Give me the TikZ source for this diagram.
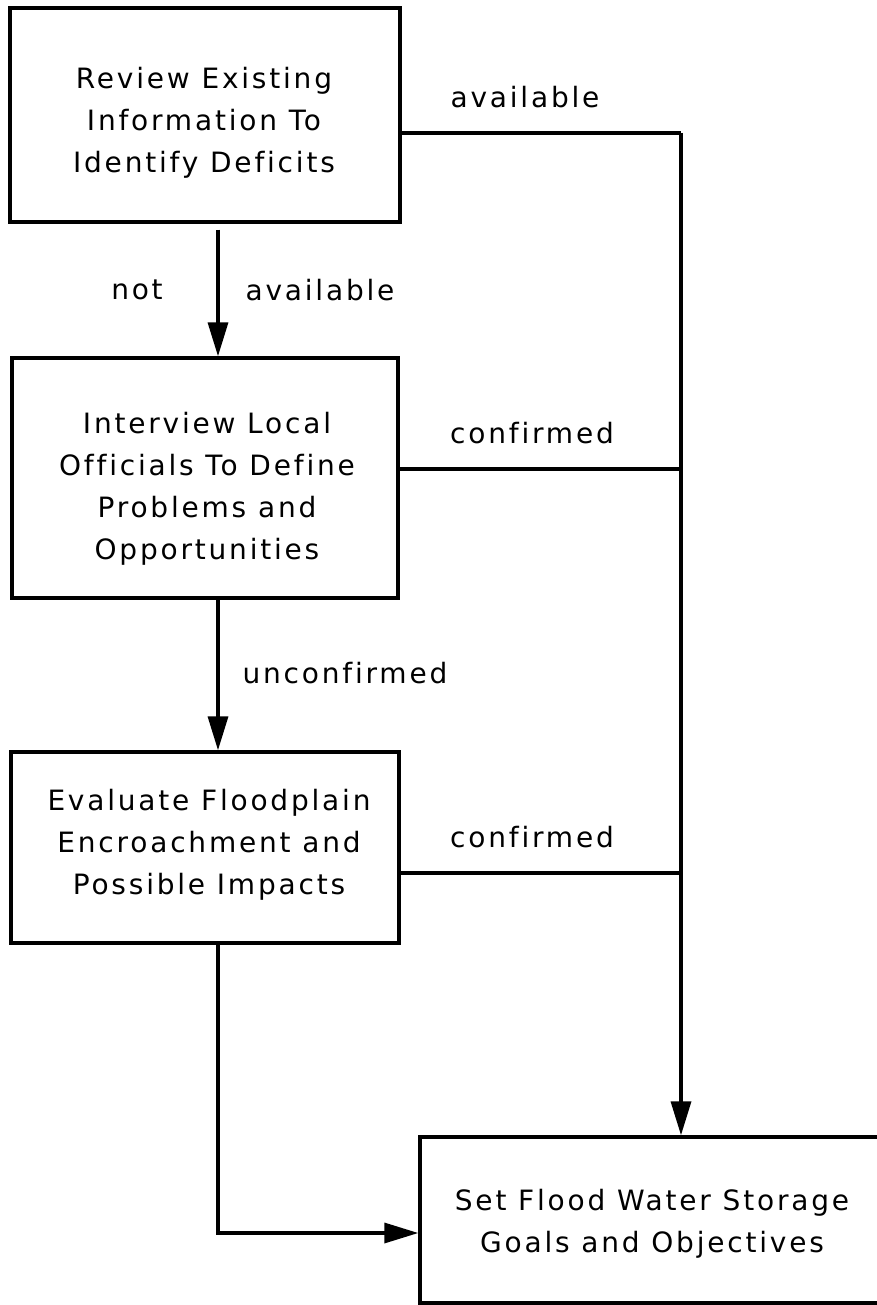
\documentclass[tikz,border=0pt]{standalone}
\usepackage{fontspec}
\setmainfont{DejaVu Sans}[LetterSpace=10,Ligatures={NoCommon}]
\usetikzlibrary{arrows.meta}
\begin{document}
\begin{tikzpicture}[x=1pt,y=-1pt,
  every node/.style={font=\fontsize{28}{42}\selectfont},
  box/.style={draw, line width=3.4pt, rectangle, inner sep=0pt},
  txt/.style={align=center, inner sep=0pt},
  lbl/.style={inner sep=0pt},
  link/.style={line width=3.4pt},
  arr/.style={line width=3.4pt, -{Triangle[length=34pt,width=20pt]}}]
\useasboundingbox (0,0) rectangle (876,1305);

% process boxes
\node[box, minimum width=390pt, minimum height=214pt] (b1) at (205,115) {};
\node[txt] (t1) at (204,123) {Review Existing\\Information To\\Identify Deficits};

\node[box, minimum width=386pt, minimum height=240pt] (b2) at (205,478) {};
\node[txt] (t2) at (207,489) {Interview Local\\Officials To Define\\Problems and\\Opportunities};

\node[box, minimum width=388pt, minimum height=191pt] (b3) at (205,847.5) {};
\node[txt] (t3) at (209,845) {Evaluate Floodplain\\Encroachment and\\Possible Impacts};

\node[box, minimum width=464pt, minimum height=166pt] (b4) at (652,1220) {};
\node[txt] (t4) at (652,1223.5) {Set Flood Water Storage\\Goals and Objectives};

% collecting line on the right
\coordinate (j1) at (681,133);

% connectors
\draw[arr] ([xshift=13pt,yshift=-6pt]b1.south) -- ([xshift=13pt]b2.north);
\draw[arr] ([xshift=13pt]b2.south) -- ([xshift=13pt]b3.north);
\draw[link] ([yshift=-18pt]b1.east) -- (j1);
\draw[link] ([yshift=9pt]b2.east) -- ([yshift=9pt]b2.east -| j1);
\draw[link] ([yshift=-25.5pt]b3.east) -- ([yshift=-25.5pt]b3.east -| j1);
\draw[arr] (j1) -- (j1 |- b4.north);
\draw[arr] ([xshift=13pt]b3.south) |- ([yshift=-13pt]b4.west);

% connector labels
\node[lbl] (l1) at (525,97) {available};
\node[lbl] (l2) at (137,290) {not};
\node[lbl] (l3) at (320,290) {available};
\node[lbl] (l4) at (532,433) {confirmed};
\node[lbl] (l5) at (345,673) {unconfirmed};
\node[lbl] (l6) at (532,837) {confirmed};
\end{tikzpicture}
\end{document}
